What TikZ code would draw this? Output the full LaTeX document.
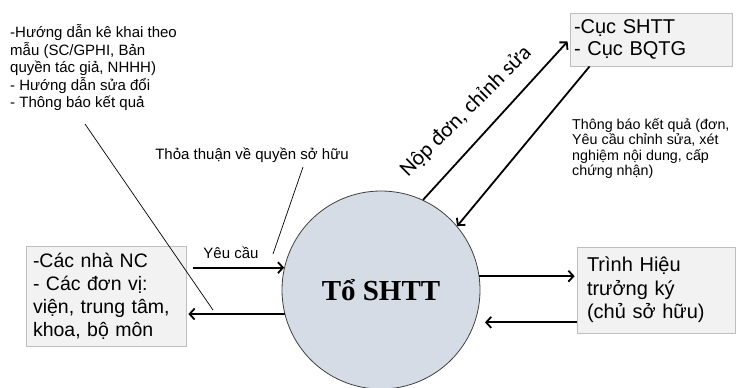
\documentclass[tikz,border=0pt]{standalone}
\usepackage{fontspec}
\setmainfont{Liberation Sans}
\newfontfamily\serifbold{Liberation Serif}
\newfontfamily\calfont{Carlito}
\usetikzlibrary{arrows.meta,calc}
\definecolor{circfill}{HTML}{D6DCE5}
\definecolor{boxfill}{HTML}{F2F2F2}
\definecolor{boxline}{HTML}{BFBFBF}
\definecolor{circline}{HTML}{404040}
\begin{document}
\begin{tikzpicture}[x=1pt,y=-1pt,
  box/.style={draw=boxline, fill=boxfill, line width=0.8pt, align=left, inner ysep=0pt},
  arr/.style={line width=1.8pt, -{Straight Barb[length=5pt,width=11pt]}},
  thinline/.style={line width=0.7pt},
  lbl/.style={inner sep=0pt, align=left, anchor=north west}]
\useasboundingbox (0,0) rectangle (736,388);

% central circle
\node[circle, draw=circline, fill=circfill, line width=0.8pt, minimum size=198pt, inner sep=0pt,
      font=\serifbold\bfseries\fontsize{29}{32}\selectfont] (c) at (381,290) {Tổ SHTT};

% boxes
\node[box, minimum width=160pt, minimum height=100pt, text width=146pt, inner xsep=7pt,
      font=\fontsize{19.5}{23}\selectfont] (lb) at (106,296)
      {-Các nhà NC\\- Các đơn vị:\\viện, trung tâm,\\khoa, bộ môn};
\node[box, minimum width=158pt, minimum height=86pt, text width=138pt, inner xsep=10pt,
      font=\fontsize{20}{23.5}\selectfont] (rb) at (656,290)
      {Trình Hiệu\\trưởng ký\\(chủ sở hữu)};
\node[box, minimum width=162pt, minimum height=53pt, text width=154pt, inner xsep=4pt,
      font=\fontsize{20}{22}\selectfont] (tb) at (651,39.5)
      {-Cục SHTT\\- Cục BQTG};

% arrows
\draw[arr] ($(lb.east |- c.167)+(7,0)$) -- (c.167);
\draw[arr] (c.194) -- ($(lb.east |- c.194)+(2,0)$);
\draw[arr] (c.8) -- ($(rb.west |- c.8)+(-2,0)$);
\draw[arr] (rb.west |- c.-19) -- ($(c.-19)+(10,0)$);
\draw[arr] (c.65) -- ($(tb.west)+(-2,2)$);
\draw[arr] ($(tb.south west)+(20,0)$) -- (c.40);

% labels
\node[lbl, font=\fontsize{15}{17.5}\selectfont] (tl) at (10,24.5)
  {-Hướng dẫn kê khai theo\\mẫu (SC/GPHI, Bản\\quyền tác giả, NHHH)\\- Hướng dẫn sửa đổi\\- Thông báo kết quả};
\node[inner sep=0pt, font=\fontsize{15}{17}\selectfont] (tt) at (252,155) {Thỏa thuận về quyền sở hữu};
\node[inner sep=0pt, font=\fontsize{15}{17}\selectfont] (yc) at (231,253) {Yêu cầu};
\node[lbl, font=\fontsize{14.3}{15.3}\selectfont] (tk) at (572,118.5)
  {Thông báo kết quả (đơn,\\Yêu cầu chỉnh sửa, xét\\nghiệm nội dung, cấp\\chứng nhận)};
\node[anchor=base west, rotate=45, inner sep=0pt, font=\calfont\fontsize{22}{26}\selectfont] (nd) at (408,178)
  {Nộp đơn, chỉnh sửa};

% thin pointer lines
\coordinate (p1) at (85,124);
\coordinate (p2) at (213,310);
\draw[thinline] (p1) -- (p2);
\coordinate (q1) at (303,167);
\coordinate (q2) at (273,254);
\draw[thinline] (q1) -- (q2);
\end{tikzpicture}
\end{document}
